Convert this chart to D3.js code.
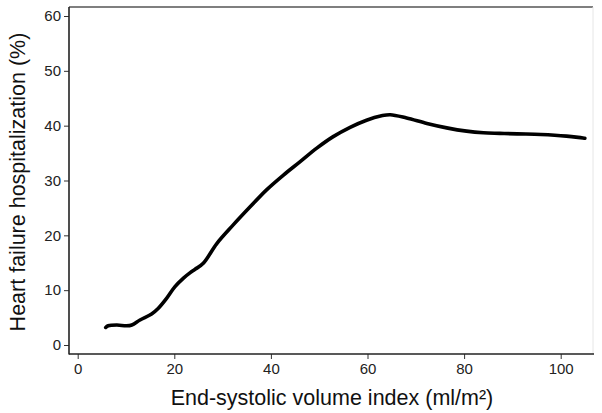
<!DOCTYPE html>
<html>
<head>
<meta charset="utf-8">
<script src="https://cdn.jsdelivr.net/npm/d3@7"></script>
<style>
  body { margin: 0; background: #fff; }
  svg { display: block; font-family: "Liberation Sans", Arial, sans-serif; }
</style>
</head>
<body>
<div class="canvas"></div>
<script>
// curve
var esvi = [5.8, 6.3, 8.1, 10.1, 11.2, 12.9, 15.3, 16.7, 18.4, 20.1, 21.9, 23.3, 24.3, 26, 28.8, 32.2, 35.7, 39.1, 42.6, 46.0, 49.5, 52.9, 56.4, 59.8, 62.9, 64.7, 68.1, 72.3, 76.4, 80.5, 84, 87.4, 91, 95.9, 101.2, 105];
var hfh = [3.2, 3.5, 3.65, 3.5, 3.65, 4.56, 5.65, 6.7, 8.5, 10.6, 12.2, 13.2, 13.8, 14.9, 18.5, 21.9, 25.2, 28.3, 31.0, 33.4, 35.9, 38.0, 39.7, 41.0, 41.8, 42.0, 41.4, 40.4, 39.6, 39.0, 38.7, 38.6, 38.5, 38.4, 38.1, 37.7];
var xTicks = [0, 20, 40, 60, 80, 100];
var yTicks = [0, 10, 20, 30, 40, 50, 60];
var xTitle = "End-systolic volume index (ml/m²)";
var yTitle = "Heart failure hospitalization (%)";

const W = 602, H = 413;
const pLeft = 69, pRight = 593, pTop = 7, pBottom = 354;

const svg = d3.select(".canvas").append("svg").attr("width", W).attr("height", H);

let x = d3.scaleLinear().domain([0, 100]).range([77.7, 560.7]);
let y = d3.scaleLinear().domain([0, 60]).range([345, 16]);

// frame
svg.append("line").attr("x1", pLeft).attr("x2", pRight).attr("y1", pTop).attr("y2", pTop)
  .attr("stroke", "#555").attr("stroke-width", 1.5);
svg.append("line").attr("x1", pRight).attr("x2", pRight).attr("y1", pTop).attr("y2", pBottom)
  .attr("stroke", "#e6e6e6").attr("stroke-width", 1);

// axes
let xAxis = d3.axisBottom(x).tickValues(xTicks).tickSize(5).tickPadding(4);
let yAxis = d3.axisLeft(y).tickValues(yTicks).tickSize(5).tickPadding(3);

let gx = svg.append("g").attr("transform", `translate(0,${pBottom})`).call(xAxis);
let gy = svg.append("g").attr("transform", `translate(${pLeft},0)`).call(yAxis);
[gx, gy].forEach((g) => {
  g.select(".domain").remove();
  g.selectAll("line").attr("stroke", "#333").attr("stroke-width", 1);
  g.selectAll("text").attr("fill", "#222").style("font-size", "15px")
    .style("font-family", "Liberation Sans, Arial, sans-serif");
});

svg.append("line").attr("x1", pLeft).attr("x2", pLeft).attr("y1", pTop).attr("y2", pBottom + 0.5)
  .attr("stroke", "#222").attr("stroke-width", 1.6);
svg.append("line").attr("x1", pLeft).attr("x2", pRight + 1).attr("y1", pBottom).attr("y2", pBottom)
  .attr("stroke", "#222").attr("stroke-width", 1.6);

// curve
let pts = esvi.map((v, i) => [v, hfh[i]]);
let line = d3.line().x((d) => x(d[0])).y((d) => y(d[1])).curve(d3.curveCatmullRom);
svg.append("path").datum(pts).attr("d", line)
  .attr("fill", "none").attr("stroke", "#000").attr("stroke-width", 3.6)
  .attr("stroke-linecap", "round").attr("stroke-linejoin", "round");

// titles
svg.append("text").attr("x", 332).attr("y", 405).attr("text-anchor", "middle")
  .style("font-size", "21.5px").attr("fill", "#111").text(xTitle);
svg.append("text").attr("transform", "translate(25,182) rotate(-90)").attr("text-anchor", "middle")
  .style("font-size", "21.5px").attr("fill", "#111").text(yTitle);
</script>
</body>
</html>
